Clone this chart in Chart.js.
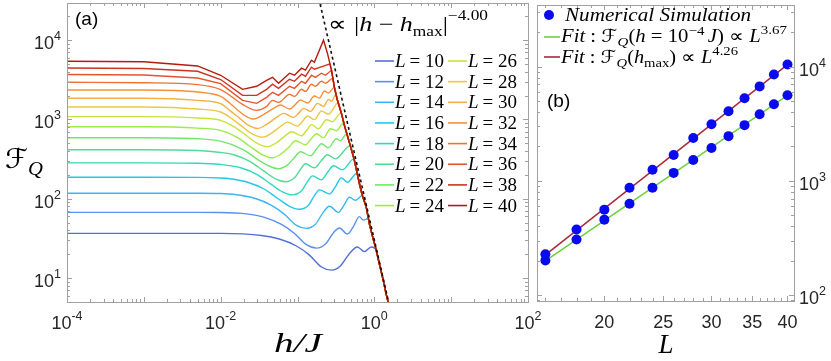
<!DOCTYPE html>
<html><head><meta charset="utf-8">
<script src="https://cdn.jsdelivr.net/npm/chart.js@4.4.0/dist/chart.umd.min.js"></script>
<style>
html,body{margin:0;padding:0;background:#fff;}
#wrap{position:relative;width:831px;height:361px;overflow:hidden;}
canvas{position:absolute;left:0;top:0;}
</style></head><body>
<div id="wrap"><canvas id="ca" width="831" height="361"></canvas><canvas id="cb" width="831" height="361"></canvas></div>
<script>
// ---------- Panel (a) data: F_Q vs h/J for each L ----------
const Ls = [10,12,14,16,18,20,22,24,26,28,30,32,34,36,38,40];
const colorsL = ['#5470d8','#5a90f0','#3cb4f4','#22c8e6','#2fd8c0','#4fdc96','#6ee86c','#9cec44',
                 '#c8e43c','#ecc848','#f8b040','#f89038','#f07030','#e4542c','#cc3420','#b41c0c'];
const h10=[1e-4,1e-3,5e-3,0.01,0.034,0.058,0.097,0.143,0.205,0.277,0.361,0.473,0.601,0.741,0.914];
const f10=[36.6,36.6,36.6,36.6,34.5,31.1,25.4,19.5,13.8,12.6,14.2,20.3,24.7,21.6,24.7];
const h12=[1e-4,1e-3,5e-3,0.01,0.0218,0.0372,0.0619,0.0914,0.131,0.177,0.231,0.294,0.351,0.446,0.533,0.638,0.72,0.836];
const f12=[67.5,67.5,67.5,67.3,64.6,58.4,47.6,36.6,26.4,23.9,26.9,37.4,42.9,36.0,44.5,59.6,53.8,56.7];
const h14=[1e-4,1e-3,5e-3,0.01,0.0161,0.0277,0.0459,0.0678,0.097,0.131,0.171,0.211,0.261,0.340,0.407,0.473,0.566];
const f14=[117.4,117.4,117.4,116.4,112.4,101.5,82.8,63.7,46.2,42.4,47.6,65.0,80.4,67.5,84.5,104.5,95.7];
const h16=[1e-4,1e-3,5e-3,0.01,0.0131,0.0224,0.0372,0.0549,0.0787,0.106,0.139,0.166,0.193,0.261,0.312,0.372,0.446,0.594];
const f16=[187,187,186.2,182.7,178.9,161.7,131.9,101.5,80.4,73.7,82.8,109.8,129.6,115.3,142.6,183.8,161.7,210.1];
const h18=[1e-4,1e-3,5e-3,0.01,0.0182,0.0303,0.0446,0.0638,0.0861,0.113,0.135,0.157,0.205,0.245,0.294,0.384,0.542];
const f18=[284,284,281,271,246,200.5,154.3,122.3,112,125.9,165,194.8,173.4,214.4,260.6,232,319];
const h20=[1e-4,1e-3,5e-3,0.01,0.0148,0.0245,0.0362,0.0518,0.0698,0.0914,0.109,0.127,0.166,0.205,0.245,0.312,0.486];
const f20=[415,415,407,384,359,293,225,178,164,184,234,276,246,304,359,319,467];
const h22=[1e-4,1e-3,5e-3,0.01,0.0199,0.0294,0.042,0.0566,0.0741,0.0914,0.109,0.148,0.177,0.205,0.253,0.321,0.361,0.438];
const f22=[589,589,572,533,415,319,261,239,268,332,392,349,425,495,440,572,540,662];
const h24=[1e-4,1e-3,5e-3,0.01,0.0166,0.0245,0.0351,0.0473,0.0619,0.0787,0.0942,0.127,0.152,0.177,0.218,0.269,0.321,0.399];
const f24=[811,811,779,728,589,453,359,329,370,457,540,480,577,662,589,765,722,911];
const h26=[1e-4,1e-3,5e-3,0.01,0.0148,0.0218,0.0303,0.0407,0.0533,0.0678,0.0836,0.113,0.131,0.152,0.188,0.238,0.285,0.371];
const f26=[1085,1085,1042,974,811,624,495,453,509,612,701,624,728,860,765,994,938,1219];
const h28=[1e-4,1e-3,5e-3,0.01,0.0131,0.0187,0.026,0.0351,0.0459,0.0601,0.0741,0.1,0.116,0.135,0.166,0.205,0.253,0.339];
const f28=[1435,1435,1354,1241,1072,825,654,599,673,818,927,825,946,1104,997,1277,1170,1612];
const h30=[1e-4,1e-3,5e-3,0.01,0.0131,0.0171,0.0231,0.0303,0.0396,0.0533,0.0658,0.0887,0.103,0.12,0.148,0.182,0.218,0.253,0.277,0.317];
const f30=[1848,1848,1742,1584,1302,1062,841,771,866,1062,1193,1062,1193,1380,1264,1596,1462,1793,1692,2075];
const h32=[1e-4,1e-3,5e-3,0.01,0.0131,0.0166,0.0211,0.0269,0.0351,0.0488,0.0601,0.0787,0.0942,0.109,0.135,0.166,0.193,0.224,0.253];
const f32=[2353,2353,2220,1959,1612,1315,1104,1012,1137,1380,1521,1354,1550,1760,1612,1976,1865,2286,2157];
const h34=[1e-4,1e-3,5e-3,0.01,0.0193,0.0294,0.0396,0.0473,0.0566,0.0787,0.0914,0.113,0.127,0.152,0.171,0.205,0.231,0.288];
const f34=[2940,2900,2754,2381,1550,1302,1462,1742,1643,2075,1957,2400,2260,2780,2620,3030,2860,3310];
const h36=[1e-4,1e-3,5e-3,0.01,0.0193,0.0294,0.0396,0.0473,0.0566,0.0787,0.0914,0.113,0.127,0.152,0.171,0.205,0.231];
const f36=[3685,3640,3337,2835,1742,1596,1900,2200,2015,2620,2470,3030,2860,3610,3400,3830,3610];
const h38=[1e-4,1e-3,5e-3,0.01,0.0193,0.0294,0.0396,0.0473,0.0566,0.0787,0.0914,0.113,0.127,0.152,0.166,0.264];
const f38=[4465,4400,4057,3186,2015,2015,2400,2780,2470,3210,3030,3720,3510,4560,4300,5016];
const h40=[1e-4,1e-3,5e-3,0.01,0.0193,0.0294,0.0396,0.0473,0.0566,0.0787,0.0914,0.113,0.127,0.152,0.166];
const f40=[5430,5350,4730,3610,2400,2620,3120,3400,2860,3830,3610,4430,4180,5585,5270];
// common collapsed tail (all curves coincide after their last peak)
const tailH=[0.218,0.245,0.277,0.302,0.331,0.373,0.408,0.473,0.55,0.639,0.699,0.787,0.861,0.942,1.06,1.16,1.31,1.43,1.52];
const tailF=[10000,6850,4180,2540,1745,1195,842,514,305,156,110,77.5,48.7,34.4,22.3,15.3,9.3,6.2,4.9];
const tailFrom=[14,12,10,9,9,8,7,6,6,5,4,3,3,2,2,0];
// power-law guide |h-h_max|^-4
const guideH=[0.197,1.54];
const guideF=[28500,4.9];
const xTicksA=[1e-4,1e-2,1,100];
const xTickExpA=['-4','-2','0','2'];
const yTicksA=[10,100,1000,10000];
const yTickExpA=['1','2','3','4'];

// ---------- Panel (b) data ----------
const Lb=[16,18,20,22,24,26,28,30,32,34,36,38,40];
const fqMax=[228,375,560,869,1250,1684,2366,3130,4060,5270,6700,8520,10400];
const fqLow=[201,307,458,631,869,1174,1524,1937,2460,3070,3830,4680,5600];
const fitL=[16,40];
const fitMaxF=[225,10400];
const fitLowF=[200,5600];
const xTicksB=[20,25,30,35,40];
const yTicksB=[100,1000,10000];
const yTickExpB=['2','3','4'];

const curveH=[h10,h12,h14,h16,h18,h20,h22,h24,h26,h28,h30,h32,h34,h36,h38,h40];
const curveF=[f10,f12,f14,f16,f18,f20,f22,f24,f26,f28,f30,f32,f34,f36,f38,f40];

const SANS='"Liberation Sans", Arial, Helvetica, sans-serif';
const SERIF='"Liberation Serif", "Times New Roman", serif';
const MATHF='"DejaVu Sans", "DejaVu Serif", serif';
const AXC='#a0a0a0';
const TXT='#262626';
const it=n=>`italic ${n}px ${SERIF}`;
const rm=n=>`${n}px ${SERIF}`;

function rich(ctx, segs, x, y, targetW, align){
  let w=0;
  const ws=segs.map(s=>{ctx.font=s[1];const m=ctx.measureText(s[0]).width;w+=m+(s[3]||0);return m;});
  const sc=targetW? targetW/w : 1;
  const tw=w*sc;
  let x0 = align==='center'? x-tw/2 : align==='right'? x-tw : x;
  ctx.save();
  ctx.translate(x0,y); ctx.scale(sc,1);
  ctx.textAlign='left'; ctx.textBaseline='alphabetic';
  let cx=0;
  segs.forEach((s,i)=>{ctx.font=s[1]; ctx.fillText(s[0],cx,s[2]||0); cx+=ws[i]+(s[3]||0);});
  ctx.restore();
}
function pow10(ctx, exp, x, y, align){
  const size=18, ss=12.5;
  ctx.font=`${size}px ${SANS}`; const wb=ctx.measureText('10').width;
  ctx.font=`${ss}px ${SANS}`; const we=ctx.measureText(exp).width;
  const tw=wb+we;
  const x0= align==='center'? x-tw/2 : align==='right'? x-tw : x;
  ctx.textAlign='left'; ctx.textBaseline='alphabetic';
  ctx.font=`${size}px ${SANS}`; ctx.fillText('10',x0,y);
  ctx.font=`${ss}px ${SANS}`; ctx.fillText(exp,x0+wb,y-9);
}
function vline(ctx,x,y0,y1){const X=Math.round(x)+0.5;ctx.beginPath();ctx.moveTo(X,y0);ctx.lineTo(X,y1);ctx.stroke();}
function hline(ctx,y,x0,x1){const Y=Math.round(y)+0.5;ctx.beginPath();ctx.moveTo(x0,Y);ctx.lineTo(x1,Y);ctx.stroke();}
function logMinor(min,max){const out=[];for(let k=Math.floor(Math.log10(min));k<=Math.ceil(Math.log10(max));k++){for(let m=1;m<=9;m++){const v=m*Math.pow(10,k);if(v>=min&&v<=max)out.push([v,m===1]);}}return out;}

const axesA={id:'axesA',afterDraw(chart){
  const {ctx,chartArea:a,scales:{x,y}}=chart;
  ctx.save();
  ctx.strokeStyle=AXC; ctx.lineWidth=1;
  ctx.strokeRect(Math.round(a.left)+0.5,Math.round(a.top)+0.5,Math.round(a.right-a.left),Math.round(a.bottom-a.top));
  logMinor(1e-4,100).forEach(([v,maj])=>{const p=x.getPixelForValue(v);const L=maj?5:3;vline(ctx,p,a.bottom-L,a.bottom);vline(ctx,p,a.top,a.top+L);});
  logMinor(5,29400).forEach(([v,maj])=>{const p=y.getPixelForValue(v);const L=maj?5:3;hline(ctx,p,a.left,a.left+L);hline(ctx,p,a.right-L,a.right);});
  ctx.fillStyle=TXT;
  xTicksA.forEach((v,i)=>pow10(ctx,xTickExpA[i],x.getPixelForValue(v),329,'center'));
  yTicksA.forEach((v,i)=>pow10(ctx,yTickExpA[i],a.left-6,y.getPixelForValue(v)+9,'right'));
  ctx.fillStyle='#000';
  ctx.font=`19px ${SANS}`; ctx.textAlign='left'; ctx.fillText('(a)',75,25);
  rich(ctx,[['h/J',it(27)]],298,352,48,'center');
  rich(ctx,[['ℱ',`27px ${MATHF}`],['Q',it(19),7]],5,168,38);
  rich(ctx,[['∝',rm(21),0,6],['|',rm(21)],['h',it(21)],[' − ',rm(21)],['h',it(21)],['max',rm(14),5],['|',rm(21)],['−4.00',rm(14),-11]],328,31,160);
  Ls.forEach((L,i)=>{
    const col=i<8?0:1,row=i%8;
    const yc=61+row*20.65;
    const x0=col?448:375;
    ctx.strokeStyle=colorsL[i]; ctx.lineWidth=1.6;
    ctx.beginPath();ctx.moveTo(x0,yc);ctx.lineTo(x0+19,yc);ctx.stroke();
    ctx.fillStyle='#000';
    rich(ctx,[['L',it(19),0,4],['= ',rm(19)],[String(L),rm(19)]],x0+20,yc+6,49);
  });
  ctx.restore();
}};

const datasetsA=Ls.map((L,i)=>{
  const s=tailFrom[i];
  const pts=curveH[i].map((h,j)=>({x:h,y:curveF[i][j]})).concat(tailH.slice(s).map((h,j)=>({x:h,y:tailF[s+j]})));
  const jag=L>=36;
  return {label:'L = '+L,data:pts,borderColor:colorsL[i],borderWidth:1.4,pointRadius:0,fill:false,
    tension:0,cubicInterpolationMode:jag?'default':'monotone',order:100-L};
});
datasetsA.push({label:'guide',data:guideH.map((h,j)=>({x:h,y:guideF[j]})),borderColor:'#111',borderWidth:1.6,
  borderDash:[3,3],pointRadius:0,fill:false,order:0});

new Chart(document.getElementById('ca'),{
  type:'line',
  data:{datasets:datasetsA},
  options:{responsive:false,animation:false,devicePixelRatio:1,
    layout:{padding:{left:67,top:3,right:303,bottom:59}},
    plugins:{legend:{display:false},tooltip:{enabled:false}},
    scales:{x:{type:'logarithmic',min:1e-4,max:100,display:false},
            y:{type:'logarithmic',min:5,max:29400,display:false}}},
  plugins:[axesA]
});

const axesB={id:'axesB',afterDraw(chart){
  const {ctx,chartArea:a,scales:{x,y}}=chart;
  ctx.save();
  ctx.strokeStyle=AXC; ctx.lineWidth=1;
  ctx.strokeRect(Math.round(a.left)+0.5,Math.round(a.top)+0.5,Math.round(a.right-a.left),Math.round(a.bottom-a.top));
  for(let v=16;v<=41;v++){const p=x.getPixelForValue(v);const L=xTicksB.includes(v)?5:3;vline(ctx,p,a.bottom-L,a.bottom);vline(ctx,p,a.top,a.top+L);}
  logMinor(89,34500).forEach(([v,maj])=>{const p=y.getPixelForValue(v);const L=maj?5:3;hline(ctx,p,a.left,a.left+L);hline(ctx,p,a.right-L,a.right);});
  ctx.fillStyle=TXT; ctx.font=`18px ${SANS}`; ctx.textAlign='center'; ctx.textBaseline='alphabetic';
  xTicksB.forEach(v=>ctx.fillText(String(v),x.getPixelForValue(v),328));
  yTicksB.forEach((v,i)=>pow10(ctx,yTickExpB[i],a.right+5,y.getPixelForValue(v)+9,'left'));
  ctx.fillStyle='#000';
  ctx.font=`19px ${SANS}`; ctx.textAlign='left'; ctx.fillText('(b)',547,107);
  rich(ctx,[['L',it(27)]],666,353,0,'center');
  ctx.fillStyle='#0a0af0'; ctx.beginPath(); ctx.arc(549,15,5,0,Math.PI*2); ctx.fill();
  ctx.fillStyle='#000';
  rich(ctx,[['Numerical Simulation',it(18)]],565,21,186);
  ctx.lineWidth=1.6;
  ctx.strokeStyle='#6cd03a'; ctx.beginPath(); ctx.moveTo(544,37); ctx.lineTo(560,37); ctx.stroke();
  rich(ctx,[['Fit',it(18)],[' : ',rm(18)],['ℱ',`18px ${MATHF}`],['Q',it(13),4],['(',rm(18)],['h',it(18)],[' = ',rm(18)],['10',rm(18)],['−4',rm(13),-7,3],['J',it(18)],[')',rm(18)],[' ∝ ',rm(18)],['L',it(18)],['3.67',rm(13),-8]],561,42,226);
  ctx.strokeStyle='#a8283c'; ctx.beginPath(); ctx.moveTo(544,57); ctx.lineTo(560,57); ctx.stroke();
  rich(ctx,[['Fit',it(18)],[' : ',rm(18)],['ℱ',`18px ${MATHF}`],['Q',it(13),4],['(',rm(18)],['h',it(18)],['max',rm(13),4],[')',rm(18)],[' ∝ ',rm(18)],['L',it(18)],['4.26',rm(13),-8]],561,63,177);
  ctx.restore();
}};

new Chart(document.getElementById('cb'),{
  type:'line',
  data:{datasets:[
    {label:'sim max',data:Lb.map((L,i)=>({x:L,y:fqMax[i]})),showLine:false,pointRadius:5,pointBackgroundColor:'#0a0af0',pointBorderWidth:0,order:0},
    {label:'sim low',data:Lb.map((L,i)=>({x:L,y:fqLow[i]})),showLine:false,pointRadius:5,pointBackgroundColor:'#0a0af0',pointBorderWidth:0,order:0},
    {label:'fit low',data:fitL.map((L,i)=>({x:L,y:fitLowF[i]})),borderColor:'#6cd03a',borderWidth:1.5,pointRadius:0,order:1},
    {label:'fit max',data:fitL.map((L,i)=>({x:L,y:fitMaxF[i]})),borderColor:'#a8283c',borderWidth:1.5,pointRadius:0,order:1}
  ]},
  options:{responsive:false,animation:false,devicePixelRatio:1,
    layout:{padding:{left:537,top:3,right:37,bottom:60}},
    plugins:{legend:{display:false},tooltip:{enabled:false}},
    scales:{x:{type:'logarithmic',min:15.5,max:41,display:false},
            y:{type:'logarithmic',min:89,max:34500,display:false}}},
  plugins:[axesB]
});
</script></body></html>
